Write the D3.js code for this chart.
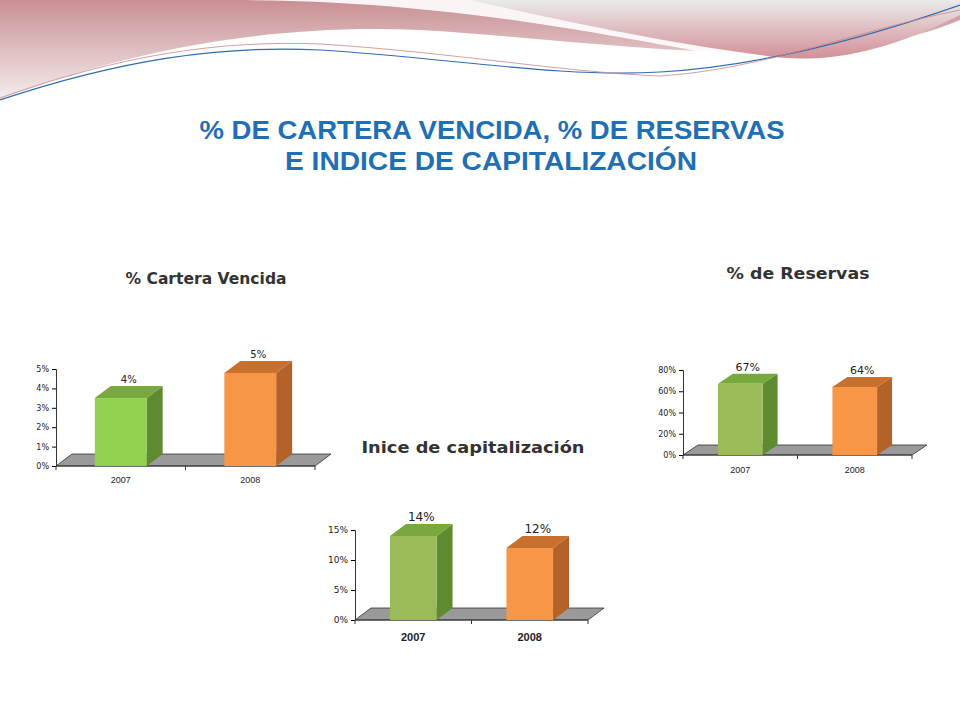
<!DOCTYPE html><html><head><meta charset="utf-8"><script src="https://cdn.jsdelivr.net/npm/d3@7"></script>
<style>body{margin:0;background:#fff}svg{display:block;font-family:"Liberation Sans",Arial,sans-serif}</style></head><body>
<svg id="c" width="960" height="720"></svg>
<script>
const years = ["2007","2008"];
const carteraValues = [3.5, 4.8];
const carteraLabels = ["4%","5%"];
const reservasValues = [67, 64];
const reservasLabels = ["67%","64%"];
const capitalValues = [14, 12];
const capitalLabels = ["14%","12%"];
const carteraTicks = [0,1,2,3,4,5];
const reservasTicks = [0,20,40,60,80];
const capitalTicks = [0,5,10,15];

const svg = d3.select("#c");
const defs = svg.append("defs");
const g1 = defs.append("linearGradient").attr("id","hdr").attr("x1",0).attr("y1",0).attr("x2",0).attr("y2",1);
g1.append("stop").attr("offset",0).attr("stop-color","#c98f93");
g1.append("stop").attr("offset",1).attr("stop-color","#f4eeee");
const g2 = defs.append("linearGradient").attr("id","hdr2").attr("x1",0).attr("y1",0).attr("x2",0).attr("y2",1);
g2.append("stop").attr("offset",0).attr("stop-color","#eaeaea");
g2.append("stop").attr("offset",1).attr("stop-color","#d38f96");
svg.append("path").attr("d","M0,0 H960 V20 C820,80 600,40 420,30 C250,22 100,60 0,100 Z").attr("fill","url(#hdr)");
svg.append("path").attr("d","M230,0 H960 V10 C900,40 800,70 720,55 C600,35 450,0 230,0 Z").attr("fill","#fff").attr("opacity",0.9);
svg.append("path").attr("d","M470,0 H960 V15 C880,55 820,65 760,55 C650,40 560,20 470,0 Z").attr("fill","url(#hdr2)");
svg.append("path").attr("d","M0,100 C120,60 220,45 320,50 C450,58 560,78 660,72 C760,66 860,40 960,5").attr("fill","none").attr("stroke","#2f6db3").attr("stroke-width",1.2);
svg.append("path").attr("d","M0,98 C120,55 220,40 320,44 C450,52 560,72 660,76 C760,70 860,30 960,10").attr("fill","none").attr("stroke","#c9868c").attr("stroke-width",0.8);

svg.append("text").attr("x",492).attr("y",139).attr("text-anchor","middle").attr("font-size",26).attr("font-weight","bold").attr("fill","#1f6fb5").attr("textLength",585).attr("lengthAdjust","spacingAndGlyphs").text("% DE CARTERA VENCIDA, % DE RESERVAS");
svg.append("text").attr("x",491).attr("y",170).attr("text-anchor","middle").attr("font-size",26).attr("font-weight","bold").attr("fill","#1f6fb5").attr("textLength",412).attr("lengthAdjust","spacingAndGlyphs").text("E INDICE DE CAPITALIZACIÓN");

const pal = [
  {front:null, side:"#5f8b30", top:"#79a83c"},
  {front:"#f79646", side:"#b4622a", top:"#c8702e"}
];

function chart(o){
  const g = svg.append("g");
  const y = d3.scaleLinear().domain([0,o.max]).range([o.y0,o.y1]);
  const x = d3.scaleBand().domain(years).range([o.x0,o.x1]).paddingInner(o.pi).paddingOuter(o.pi/2);
  const dx=o.dx, dy=o.dy;
  g.append("path").attr("d",`M${o.x0},${o.y0} L${o.x0+dx},${o.y0+dy} L${o.x1+dx},${o.y0+dy} L${o.x1},${o.y0} Z`).attr("fill","#9a9a9a").attr("stroke","#333").attr("stroke-width",0.8);
  const ya = d3.axisLeft(y).tickValues(o.ticks).tickFormat(d=>d+"%").tickSize(4);
  g.append("g").attr("transform",`translate(${o.x0},0)`).call(ya).call(s=>{s.select(".domain").attr("stroke","#333");s.selectAll("text").attr("font-size",o.fs).attr("fill","#222").attr("font-family","DejaVu Sans");});
  const xb = d3.scaleLinear().domain([0,2]).range([o.x0,o.x1]);
  g.append("line").attr("x1",o.x0).attr("x2",o.x1).attr("y1",o.y0).attr("y2",o.y0).attr("stroke","#333");
  [0,1,2].forEach(i=>g.append("line").attr("x1",xb(i)).attr("x2",xb(i)).attr("y1",o.y0).attr("y2",o.y0+4).attr("stroke","#333"));
  years.forEach((yr,i)=>{
    g.append("text").attr("x",xb(i+0.5)).attr("y",o.y0+o.xly).attr("text-anchor","middle").attr("font-size",o.xfs).attr("font-weight",o.xfw||"normal").attr("fill","#222").text(yr);
    const bx=x(yr), bw=x.bandwidth(), top=y(o.values[i]);
    const c=pal[i];
    g.append("path").attr("d",`M${bx+bw},${o.y0} L${bx+bw+dx},${o.y0+dy} L${bx+bw+dx},${top+dy} L${bx+bw},${top} Z`).attr("fill",c.side);
    g.append("path").attr("d",`M${bx},${top} L${bx+dx},${top+dy} L${bx+bw+dx},${top+dy} L${bx+bw},${top} Z`).attr("fill",c.top);
    g.append("rect").attr("x",bx).attr("y",top).attr("width",bw).attr("height",o.y0-top).attr("fill",c.front||o.green);
    g.append("text").attr("x",bx+bw/2+dx/2).attr("y",top+dy-3).attr("text-anchor","middle").attr("font-size",o.lfs).attr("fill","#222").attr("font-family","DejaVu Sans").text(o.labels[i]);
  });
  svg.append("text").attr("x",o.tx).attr("y",o.ty).attr("text-anchor","middle").attr("font-size",o.tfs).attr("font-weight","bold").attr("fill","#333").attr("font-family","DejaVu Sans").attr("textLength",o.tl).attr("lengthAdjust","spacingAndGlyphs").text(o.title);
}
chart({values:carteraValues,labels:carteraLabels,ticks:carteraTicks,max:5,x0:56,x1:315,y0:466,y1:369,pi:0.6,dx:16,dy:-12,fs:8,xfs:9,xly:17,lfs:10,green:"#92d050",title:"% Cartera Vencida",tx:206,ty:284,tfs:15,tl:161});
chart({values:reservasValues,labels:reservasLabels,ticks:reservasTicks,max:80,x0:683,x1:912,y0:455,y1:370,pi:0.61,dx:15,dy:-10,fs:8,xfs:9,xly:18,lfs:11,green:"#9bbb59",title:"% de Reservas",tx:798,ty:279,tfs:16,tl:143});
chart({values:capitalValues,labels:capitalLabels,ticks:capitalTicks,max:15,x0:355,x1:588,y0:620,y1:530,pi:0.6,dx:16,dy:-12,fs:9,xfs:11,xly:21,xfw:"bold",lfs:12,green:"#9bbb59",title:"Inice  de capitalización",tx:473,ty:453,tfs:16,tl:223});
</script></body></html>
